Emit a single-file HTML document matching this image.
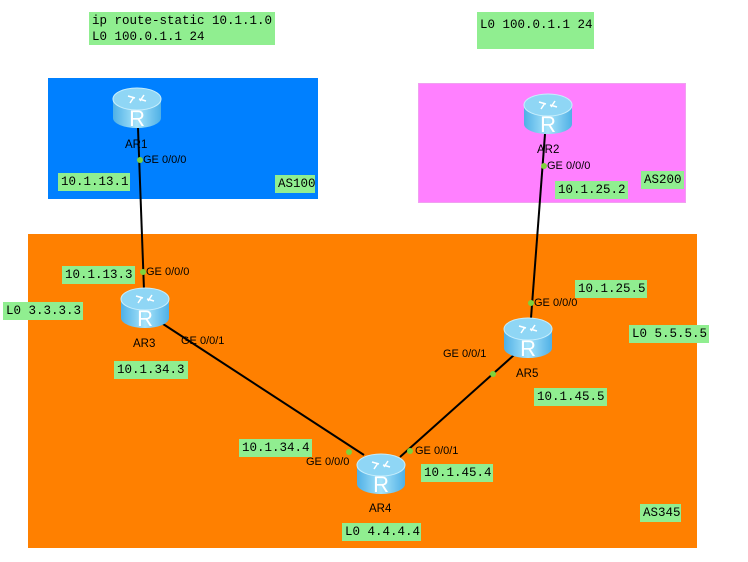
<!DOCTYPE html>
<html><head><meta charset="utf-8"><style>
body{margin:0;width:748px;height:562px;background:#fff;position:relative;overflow:hidden;font-family:"Liberation Sans",sans-serif}
.b{position:absolute}
.g{position:absolute;background:#90ee90;font-family:"Liberation Mono","DejaVu Sans Mono",monospace;font-size:12.5px;line-height:18px;padding:0 3px;box-sizing:border-box;color:#000;white-space:pre}
.t{position:absolute;font-size:11px;color:#000;white-space:nowrap}
.r{position:absolute;font-size:11.5px;color:#000}
</style></head><body>
<div class="b" style="left:48px;top:78px;width:270px;height:121px;background:#0080ff"></div>
<div class="b" style="left:418px;top:83px;width:268px;height:120px;background:#ff80ff;border:1px solid #f0a0f0;box-sizing:border-box"></div>
<div class="b" style="left:28px;top:234px;width:669px;height:314px;background:#ff8000"></div>
<div class="g" style="left:89px;top:12px;width:186px;height:33px;line-height:16px;padding-top:1px">ip route-static 10.1.1.0
L0 100.0.1.1 24</div>
<div class="g" style="left:477px;top:12px;width:117px;height:37px;padding-top:4px">L0 100.0.1.1 24</div>
<svg class="b" style="left:0;top:0" width="748" height="562">
<defs>
<linearGradient id="rg" x1="0" x2="1"><stop offset="0" stop-color="#4fb0e6"/><stop offset=".5" stop-color="#a8e4fa"/><stop offset="1" stop-color="#4fb0e6"/></linearGradient>
<g id="rt">
<path d="M-24,-9 V10 A24,10 0 0 0 24,10 V-9 Z" fill="url(#rg)"/>
<ellipse cx="0" cy="-9" rx="24" ry="11" fill="#8fd6f5" stroke="#c8eefc"/>
<text x="0" y="18" text-anchor="middle" font-family="Liberation Sans" font-size="22" fill="#fff">R</text>
<path d="M-9,-12 l7,2 M9,-7 l-7,-2 M-7,-5 l4,-6 M7,-13 l-4,6" stroke="#fff" stroke-width="1.5"/>
</g></defs>
<g stroke="#000" stroke-width="2" fill="none">
<line x1="138" y1="128" x2="144" y2="290"/>
<line x1="545" y1="134" x2="531" y2="318"/>
<line x1="160" y1="322" x2="364" y2="455"/>
<line x1="400" y1="457" x2="514" y2="355"/>
</g>
<g fill="#7ed33a">
<circle cx="140" cy="160" r="3"/><circle cx="143" cy="272" r="3"/>
<circle cx="544" cy="166" r="3"/><circle cx="531" cy="303" r="3"/>
<circle cx="349" cy="452" r="3"/><circle cx="410" cy="451" r="3"/><circle cx="493" cy="374" r="3"/>
</g>
<use href="#rt" x="137" y="108"/>
<use href="#rt" x="548" y="114"/>
<use href="#rt" x="145" y="308"/>
<use href="#rt" x="381" y="474"/>
<use href="#rt" x="528" y="338"/>
</svg>
<div class="r" style="left:125px;top:139px">AR1</div>
<div class="r" style="left:537px;top:144px">AR2</div>
<div class="r" style="left:133px;top:338px">AR3</div>
<div class="r" style="left:516px;top:368px">AR5</div>
<div class="r" style="left:369px;top:503px">AR4</div>
<div class="t" style="left:143px;top:154px">GE 0/0/0</div>
<div class="t" style="left:146px;top:266px">GE 0/0/0</div>
<div class="t" style="left:547px;top:160px">GE 0/0/0</div>
<div class="t" style="left:534px;top:297px">GE 0/0/0</div>
<div class="t" style="left:181px;top:335px">GE 0/0/1</div>
<div class="t" style="left:443px;top:348px">GE 0/0/1</div>
<div class="t" style="left:306px;top:456px">GE 0/0/0</div>
<div class="t" style="left:415px;top:445px">GE 0/0/1</div>
<div class="g" style="left:58px;top:173px;width:72px">10.1.13.1</div>
<div class="g" style="left:275px;top:175px;width:40px">AS100</div>
<div class="g" style="left:62px;top:266px;width:73px">10.1.13.3</div>
<div class="g" style="left:3px;top:302px;width:80px">L0 3.3.3.3</div>
<div class="g" style="left:114px;top:361px;width:74px">10.1.34.3</div>
<div class="g" style="left:239px;top:439px;width:73px">10.1.34.4</div>
<div class="g" style="left:342px;top:523px;width:79px">L0 4.4.4.4</div>
<div class="g" style="left:421px;top:464px;width:72px">10.1.45.4</div>
<div class="g" style="left:534px;top:388px;width:73px">10.1.45.5</div>
<div class="g" style="left:640px;top:504px;width:41px">AS345</div>
<div class="g" style="left:629px;top:325px;width:80px">L0 5.5.5.5</div>
<div class="g" style="left:575px;top:280px;width:72px">10.1.25.5</div>
<div class="g" style="left:555px;top:181px;width:73px">10.1.25.2</div>
<div class="g" style="left:641px;top:171px;width:43px">AS200</div>
</body></html>
